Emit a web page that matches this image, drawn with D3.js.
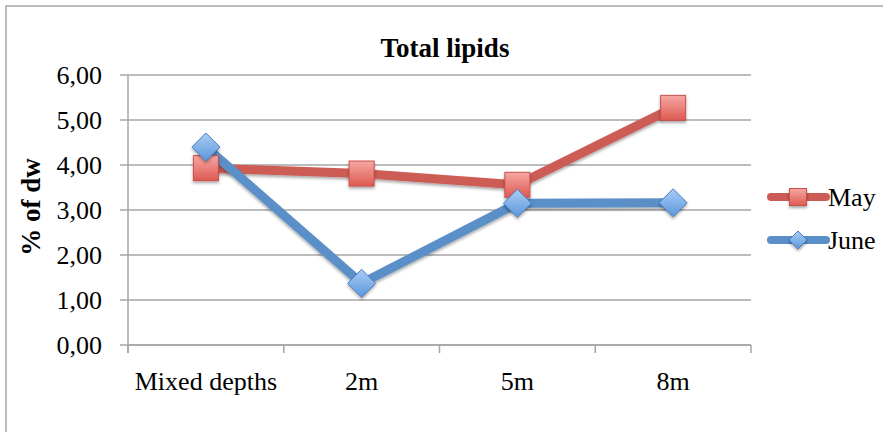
<!DOCTYPE html>
<html><head><meta charset="utf-8">
<script src="https://cdn.jsdelivr.net/npm/d3@7"></script>
<style>body{margin:0;background:#fff}svg{display:block}</style>
</head><body>
<script>
const categories = ["Mixed depths", "2m", "5m", "8m"];
const seriesNames = ["May", "June"];
const mayValues = [3.93, 3.81, 3.56, 5.27];
const juneValues = [4.40, 1.37, 3.15, 3.16];
const yTicks = [0, 1, 2, 3, 4, 5, 6];
const yTickLabels = ["0,00", "1,00", "2,00", "3,00", "4,00", "5,00", "6,00"];
const titleText = "Total lipids";
const yAxisLabel = "% of dw";

const W = 883, H = 432;
const font = "'Liberation Serif', 'DejaVu Serif', serif";
const svg = d3.select("body").append("svg").attr("width", W).attr("height", H);

const defs = svg.append("defs");
const gR = defs.append("linearGradient").attr("id","gR").attr("x1",0).attr("y1",0).attr("x2",0).attr("y2",1);
gR.append("stop").attr("offset","0%").attr("stop-color","#f7a7a3");
gR.append("stop").attr("offset","100%").attr("stop-color","#dd5a52");
const gB = defs.append("linearGradient").attr("id","gB").attr("x1",0).attr("y1",0).attr("x2",0).attr("y2",1);
gB.append("stop").attr("offset","0%").attr("stop-color","#a9cdf5");
gB.append("stop").attr("offset","100%").attr("stop-color","#5b97dc");
const f = defs.append("filter").attr("id","sh").attr("x","-50%").attr("y","-50%").attr("width","200%").attr("height","200%");
f.append("feDropShadow").attr("dx",0).attr("dy",2).attr("stdDeviation",1.5).attr("flood-color","#000").attr("flood-opacity",0.35);

// outer border
svg.append("rect").attr("x",6).attr("y",6).attr("width",W+10).attr("height",H+10)
  .attr("fill","none").attr("stroke","#a6a6a6").attr("stroke-width",1.5);

const x0 = 128, x1 = 751, yTop = 75, yBot = 345;
const x = d3.scaleBand().domain(categories).range([x0, x1]);
const y = d3.scaleLinear().domain([0, 6]).range([yBot, yTop]);

// gridlines
svg.append("g").selectAll("line").data(yTicks).join("line")
  .attr("x1", x0 - 8).attr("x2", x1).attr("y1", d => y(d)).attr("y2", d => y(d))
  .attr("stroke", "#a6a6a6").attr("stroke-width", 1.5);

// y axis
const yAxis = d3.axisLeft(y).tickValues(yTicks).tickFormat((d,i) => yTickLabels[i]).tickSize(0).tickPadding(26);
const ya = svg.append("g").attr("transform", `translate(${x0},0)`).call(yAxis);
ya.select(".domain").attr("stroke","#a6a6a6").attr("stroke-width",1.5).attr("d", `M0,${yTop}V${yBot+8}`);
ya.selectAll("text").attr("font-family", font).attr("font-size", 26).attr("fill","#000");

// x axis
const xAxis = d3.axisBottom(x).tickSize(0).tickPadding(27);
const xa = svg.append("g").attr("transform", `translate(0,${yBot})`).call(xAxis);
xa.select(".domain").attr("stroke","#a6a6a6").attr("stroke-width",1.5).attr("d", `M${x0},0H${x1}`);
xa.selectAll("text").attr("font-family", font).attr("font-size", 26).attr("fill","#000");
const bounds = categories.map(c => x(c)).concat([x1]);
xa.append("g").selectAll("line").data(bounds).join("line")
  .attr("x1", d => d).attr("x2", d => d).attr("y1", 0).attr("y2", 8)
  .attr("stroke","#a6a6a6").attr("stroke-width",1.5);

const cx = c => x(c) + x.bandwidth()/2;
const line = d3.line().x(d => cx(d.c)).y(d => y(d.v));
const mayData = categories.map((c,i) => ({c, v: mayValues[i]}));
const juneData = categories.map((c,i) => ({c, v: juneValues[i]}));

const redLine = "#cd5b55", blueLine = "#5a8fc7";
svg.append("path").datum(mayData).attr("d", line).attr("fill","none")
  .attr("stroke", redLine).attr("stroke-width", 9).attr("stroke-linejoin","round").attr("filter","url(#sh)");
svg.append("path").datum(juneData).attr("d", line).attr("fill","none")
  .attr("stroke", blueLine).attr("stroke-width", 9).attr("stroke-linejoin","round").attr("filter","url(#sh)");

function square(g, px, py, s) {
  g.append("rect").attr("x", px - s/2).attr("y", py - s/2).attr("width", s).attr("height", s)
    .attr("fill","url(#gR)").attr("stroke","#c9504a").attr("stroke-width",1).attr("filter","url(#sh)");
}
function diamond(g, px, py, r) {
  g.append("path").attr("d", `M${px},${py-r}L${px+r},${py}L${px},${py+r}L${px-r},${py}Z`)
    .attr("fill","url(#gB)").attr("stroke","#4a7fbf").attr("stroke-width",1).attr("filter","url(#sh)");
}
const mg = svg.append("g");
mayData.forEach(d => square(mg, cx(d.c), y(d.v), 25));
juneData.forEach(d => diamond(mg, cx(d.c), y(d.v), 14));

// legend
const lg = svg.append("g");
const legY = [197, 240];
[[redLine, "sq"], [blueLine, "di"]].forEach((s, i) => {
  lg.append("line").attr("x1", 771).attr("x2", 826).attr("y1", legY[i]).attr("y2", legY[i])
    .attr("stroke", s[0]).attr("stroke-width", 8).attr("stroke-linecap","round");
  if (s[1] === "sq") square(lg, 798, legY[i], 17); else diamond(lg, 798, legY[i], 9);
  lg.append("text").attr("x", 828).attr("y", legY[i]).attr("dy","0.35em")
    .attr("font-family", font).attr("font-size", 26).text(seriesNames[i]);
});

// title
svg.append("text").attr("x", 445).attr("y", 57).attr("text-anchor","middle")
  .attr("font-family", font).attr("font-weight","bold").attr("font-size", 27).text(titleText);
// y label
svg.append("text").attr("transform", "translate(40,207) rotate(-90)").attr("text-anchor","middle")
  .attr("font-family", font).attr("font-weight","bold").attr("font-size", 27).text(yAxisLabel);
</script>
</body></html>
